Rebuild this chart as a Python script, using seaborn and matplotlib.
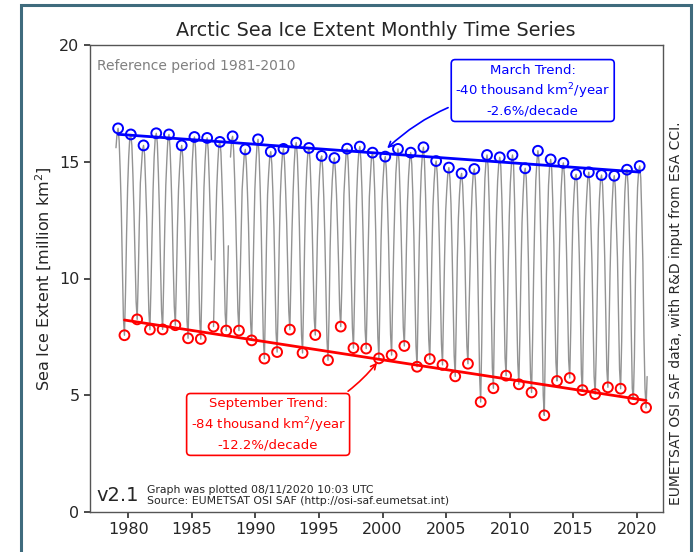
import numpy as np
import pandas as pd
import matplotlib
matplotlib.use("Agg")
import matplotlib.pyplot as plt
import seaborn as sns

# --- DATA (million km2) ---
years = list(range(1979, 2021))
nan = np.nan

jan = [15.6, 15.2, 14.8, 15.2, 15.1, 14.7, 15.0, 15.0, 14.9, 15.2, 14.6, 14.9, 14.5, 14.6,
       14.8, 14.7, 14.4, 14.2, 14.5, 14.7, 14.4, 14.3, 14.5, 14.4, 14.6, 14.1, 13.8, 13.6,
       13.8, 14.3, 14.2, 14.1, 13.6, 14.2, 14.0, 13.9, 13.6, 13.5, 13.4, 13.2, 13.7, 13.9]
feb = [16.2, 16.0, 15.5, 16.0, 16.0, 15.4, 15.8, 15.8, 15.7, 15.9, 15.3, 15.7, 15.2, 15.3,
       15.6, 15.4, 15.1, 14.9, 15.3, 15.4, 15.2, 15.0, 15.2, 15.1, 15.3, 14.8, 14.5, 14.3,
       14.5, 15.0, 14.9, 14.9, 14.5, 15.0, 14.8, 14.7, 14.3, 14.3, 14.2, 14.1, 14.5, 14.6]
mar = [16.43, 16.17, 15.70, 16.22, 16.17, 15.70, 16.06, 16.02, 15.85, 16.09, 15.53, 15.96,
       15.43, 15.55, 15.82, 15.59, 15.25, 15.16, 15.56, 15.65, 15.39, 15.22, 15.55, 15.39,
       15.62, 15.03, 14.75, 14.50, 14.69, 15.29, 15.19, 15.29, 14.72, 15.47, 15.10, 14.95,
       14.46, 14.55, 14.43, 14.40, 14.66, 14.82]
apr = [15.9, 15.7, 15.3, 15.8, 15.6, 15.2, 15.6, 15.5, 15.4, 15.5, 14.9, 15.3, 14.9, 15.0,
       15.3, 15.1, 14.7, 14.6, 15.0, 15.1, 15.0, 14.7, 15.0, 14.9, 15.0, 14.5, 14.3, 14.0,
       14.2, 14.8, 14.8, 14.9, 14.3, 15.0, 14.7, 14.4, 14.1, 13.9, 14.0, 13.9, 14.0, 14.3]
may = [14.6, 14.4, 14.0, 14.5, 14.3, 13.9, 14.3, 14.2, 14.1, 14.2, 13.7, 13.9, 13.7, 13.8,
       14.0, 13.8, 13.5, 13.6, 13.7, 13.8, 13.8, 13.4, 13.6, 13.6, 13.6, 13.2, 13.2, 12.8,
       13.0, 13.3, 13.4, 13.3, 12.8, 13.2, 13.3, 12.9, 12.6, 12.2, 12.7, 12.3, 12.4, 12.6]
jun = [13.0, 12.8, 12.6, 12.9, 12.7, 12.3, 12.7, 12.6, 12.6, 12.5, 12.3, 12.1, 12.2, 12.4,
       12.2, 12.3, 11.8, 12.2, 12.0, 12.0, 12.0, 11.8, 11.9, 11.8, 11.8, 11.6, 11.3, 11.2,
       11.0, 11.3, 11.4, 10.9, 10.8, 10.9, 11.5, 11.1, 11.0, 10.6, 10.9, 10.9, 10.6, 10.7]
jul = [10.6, 10.9, 10.5, 10.6, 10.6, 10.2, 10.3, 10.8, 10.5, 10.5, 10.2, 9.6, 9.9, 10.5,
       9.8, 10.3, 9.5, 10.6, 9.9, 9.9, 9.6, 9.8, 9.8, 9.3, 9.5, 9.4, 8.9, 8.9,
       8.3, 8.7, 9.0, 8.5, 7.9, 8.0, 8.6, 8.8, 8.8, 8.3, 8.4, 8.6, 7.8, 7.5]
aug = [8.3, 9.0, 8.6, 8.6, 8.8, 8.2, 8.2, nan, 8.5, 8.6, 8.1, 7.4, 7.7, 8.6,
       7.6, 8.3, 7.4, 8.7, 7.9, 7.8, 7.5, 7.6, 7.9, 7.1, 7.4, 7.2, 6.7, 7.1,
       5.8, 6.2, 6.6, 6.4, 5.9, 5.0, 6.4, 6.5, 5.9, 5.8, 6.1, 6.1, 5.3, 5.3]
sep = [7.57, 8.25, 7.81, 7.82, 8.00, 7.44, 7.41, 7.94, 7.77, 7.77, 7.35, 6.57, 6.85, 7.81,
       6.81, 7.58, 6.50, 7.94, 7.02, 7.00, 6.58, 6.72, 7.11, 6.22, 6.55, 6.30, 5.81, 6.35,
       4.71, 5.30, 5.84, 5.47, 5.12, 4.14, 5.61, 5.74, 5.22, 5.05, 5.34, 5.28, 4.83, 4.47]
oct = [9.4, 10.0, 9.6, 9.8, 9.9, 9.4, 9.5, 9.9, 9.7, 9.8, 9.4, 8.9, 8.9, 9.9,
       9.0, 9.5, 8.4, 9.6, 9.1, 9.1, 9.1, 9.2, 9.0, 8.7, 8.6, 8.6, 8.2, 8.6,
       7.2, 8.1, 8.1, 7.6, 7.4, 7.1, 8.3, 7.9, 8.0, 6.8, 7.6, 7.3, 6.6, 5.8]
nov = [11.9, 12.3, 11.8, 12.1, 12.2, 11.7, 11.9, 12.1, 11.4, 12.0, 11.8, 11.6, 11.5, 12.0,
       11.6, 11.8, 11.3, 11.5, 11.6, 11.5, 11.6, 11.4, 11.4, 11.3, 11.1, 11.0, 10.9, 10.5,
       10.5, 11.1, 10.6, 10.3, 10.3, 10.2, 10.6, 10.6, 10.4, 9.5, 10.2, 10.4, 10.0, nan]
dec = [13.9, 14.1, 13.8, 14.0, 13.8, 13.6, 13.9, 13.8, nan, 13.8, 13.8, 13.6, 13.5, 13.6,
       13.6, 13.4, 13.1, 13.6, 13.5, 13.5, 13.3, 13.1, 13.3, 13.3, 13.1, 12.9, 12.6, 12.6,
       12.7, 12.9, 12.7, 12.4, 12.5, 12.3, 12.6, 12.6, 12.5, 12.1, 12.0, 12.2, 12.3, nan]

march_text = "March Trend:\n-40 thousand km$^2$/year\n-2.6%/decade"
sept_text = "September Trend:\n-84 thousand km$^2$/year\n-12.2%/decade"
footer_text = ("Graph was plotted 08/11/2020 10:03 UTC\n"
               "Source: EUMETSAT OSI SAF (http://osi-saf.eumetsat.int)")
credit_text = "EUMETSAT OSI SAF data, with R&D input from ESA CCI."

# --- build long-form table, monthly values at mid-month ---
months = [jan, feb, mar, apr, may, jun, jul, aug, sep, oct, nov, dec]
rows = []
for i, yr in enumerate(years):
    for m, vals in enumerate(months):
        rows.append({"time": yr + (m + 0.5) / 12, "extent": vals[i]})
df = pd.DataFrame(rows)
df["segment"] = df["extent"].isna().cumsum()  # break line at missing months
df = df.dropna()

df_mar = pd.DataFrame({"time": np.array(years) + 2.5 / 12, "extent": mar})
df_sep = pd.DataFrame({"time": np.array(years) + 8.5 / 12, "extent": sep})

# --- PLOT ---
sns.set_theme(style="ticks")
plt.rcParams["font.family"] = ["DejaVu Sans"]

fig = plt.figure(figsize=(6.94, 5.52), dpi=100)
ax = fig.add_axes([90 / 694, 1 - 512 / 552, 572.5 / 694, 467 / 552])

sns.lineplot(data=df, x="time", y="extent", units="segment", estimator=None,
             color="#939393", lw=1.0, ax=ax, zorder=2)

for d, col in [(df_mar, "blue"), (df_sep, "red")]:
    sns.scatterplot(data=d, x="time", y="extent", s=50, fc="none", ec=col,
                    linewidth=1.4, ax=ax, zorder=3)
    sns.regplot(data=d, x="time", y="extent", scatter=False, ci=None,
                truncate=True, color=col, line_kws={"lw": 2}, ax=ax)

# arrow targets sit on the fitted lines
pm = np.polyfit(df_mar["time"], df_mar["extent"], 1)
ps = np.polyfit(df_sep["time"], df_sep["extent"], 1)

ax.annotate(march_text, xy=(2000.2, np.polyval(pm, 2000.2) + 0.15),
            xytext=(2011.8, 18.05), ha="center", va="center", color="blue",
            fontsize=9.5, linespacing=1.35,
            bbox=dict(boxstyle="round,pad=0.3", fc="white", ec="blue", lw=1.2),
            arrowprops=dict(arrowstyle="->", color="blue", lw=1.2,
                            connectionstyle="arc3,rad=0.2"))
ax.annotate(sept_text, xy=(1999.7, np.polyval(ps, 1999.7) - 0.05),
            xytext=(1991.0, 3.75), ha="center", va="center", color="red",
            fontsize=9.5, linespacing=1.35,
            bbox=dict(boxstyle="round,pad=0.3", fc="white", ec="red", lw=1.2),
            arrowprops=dict(arrowstyle="->", color="red", lw=1.2,
                            connectionstyle="arc3,rad=0.2"))

ax.text(0.013, 0.955, "Reference period 1981-2010", transform=ax.transAxes,
        color="gray", fontsize=10, va="center")
ax.text(0.012, 0.035, "v2.1", transform=ax.transAxes, fontsize=14, va="center")
ax.text(0.1, 0.035, footer_text, transform=ax.transAxes, fontsize=7.8,
        va="center", linespacing=1.1)
ax.text(1.011, 0.015, credit_text, transform=ax.transAxes, rotation=90,
        fontsize=10, va="bottom", ha="left")
ax.text(0.5, 1.01, "Arctic Sea Ice Extent Monthly Time Series",
        transform=ax.transAxes, ha="center", va="bottom", fontsize=13.8)

ax.set_xlim(1977, 2022)
ax.set_ylim(0, 20)
ax.set_xticks(range(1980, 2021, 5))
ax.set_yticks(range(0, 21, 5))
ax.set_xlabel("")
ax.set_ylabel("Sea Ice Extent [million km$^2$]", fontsize=11.5)
ax.tick_params(labelsize=11.5, length=4, color="#333333")
for sp in ax.spines.values():
    sp.set_color("#555555")
    sp.set_linewidth(1.0)

# screenshot frame around the figure
fig.add_artist(plt.Rectangle((21 / 694, -0.05), 670 / 694, 1.05 - 5 / 552,
                             transform=fig.transFigure, fill=False,
                             ec="#3f6b7d", lw=2.2))

fig.savefig("out.png", dpi=100)
